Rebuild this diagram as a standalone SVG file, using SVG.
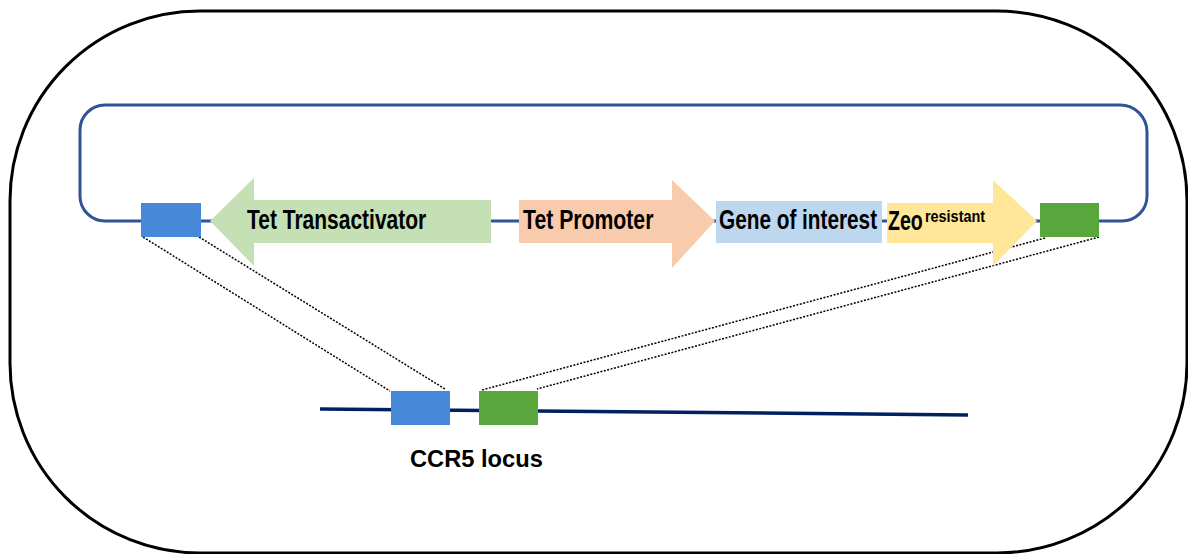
<svg xmlns="http://www.w3.org/2000/svg" width="1188" height="554" viewBox="0 0 1188 554">
<style>
.lbl{font-family:"Liberation Sans",Arial,sans-serif;font-weight:bold;fill:#000}
.dot{stroke:#000;stroke-width:1.5;stroke-dasharray:2 1.5;fill:none}
.blue{fill:#4589D8}
.green{fill:#58A63C}
</style>
<rect x="10" y="11" width="1177" height="542" rx="190" ry="190" fill="#fff" stroke="#000" stroke-width="3"/>
<g id="connectors">
<path d="M141,221 H105 A25,25 0 0 1 80,196 V130 A25,25 0 0 1 105,105 H1120 A27,27 0 0 1 1147,132 V196 A25,25 0 0 1 1122,221 H1099" fill="none" stroke="#2F5597" stroke-width="3"/>
<line x1="201" y1="221" x2="1040" y2="221" stroke="#2F5597" stroke-width="3"/>
<line x1="320" y1="409" x2="968" y2="415" stroke="#002060" stroke-width="3.5"/>
<line class="dot" x1="143" y1="237" x2="390" y2="391"/>
<line class="dot" x1="199" y1="237" x2="445" y2="389"/>
<line class="dot" x1="1045" y1="238" x2="482" y2="390"/>
<line class="dot" x1="1099" y1="237" x2="537" y2="389"/>
</g>
<g id="left-arm"><rect class="blue" x="141" y="203" width="60" height="34"/></g>
<g id="right-arm"><rect class="green" x="1040" y="203" width="59" height="34"/></g>
<g id="tet-transactivator">
<polygon points="210,221 254,178 254,200 491,200 491,243 254,243 254,266" fill="#C5E0B4"/>
<text class="lbl" transform="translate(247,229) scale(0.75,1)" x="0" y="0" font-size="28">Tet Transactivator</text>
</g>
<g id="tet-promoter">
<polygon points="519,200 672,200 672,180 715,221 672,268 672,243 519,243" fill="#F8CBAD"/>
<text class="lbl" transform="translate(523,229) scale(0.758,1)" x="0" y="0" font-size="28">Tet Promoter</text>
</g>
<g id="gene-of-interest">
<rect x="716" y="201" width="166" height="42" fill="#BDD7EE"/>
<text class="lbl" transform="translate(719,229) scale(0.742,1)" x="0" y="0" font-size="28">Gene of interest</text>
</g>
<g id="zeo">
<polygon points="887,203 993,203 993,180 1037,221 993,266 993,243 887,243" fill="#FFE699"/>
<text class="lbl" transform="translate(888,230) scale(0.7,1)" x="0" y="0" font-size="28">Zeo</text>
<text class="lbl" transform="translate(925,222) scale(0.9,1)" x="0" y="0" font-size="16">resistant</text>
</g>
<g id="locus-blue"><rect class="blue" x="391" y="391" width="59" height="34"/></g>
<g id="locus-green"><rect class="green" x="479" y="391" width="59" height="34"/></g>
<g id="ccr5-label">
<text class="lbl" transform="translate(410,467) scale(0.987,1)" x="0" y="0" font-size="24">CCR5 locus</text>
</g>
</svg>
